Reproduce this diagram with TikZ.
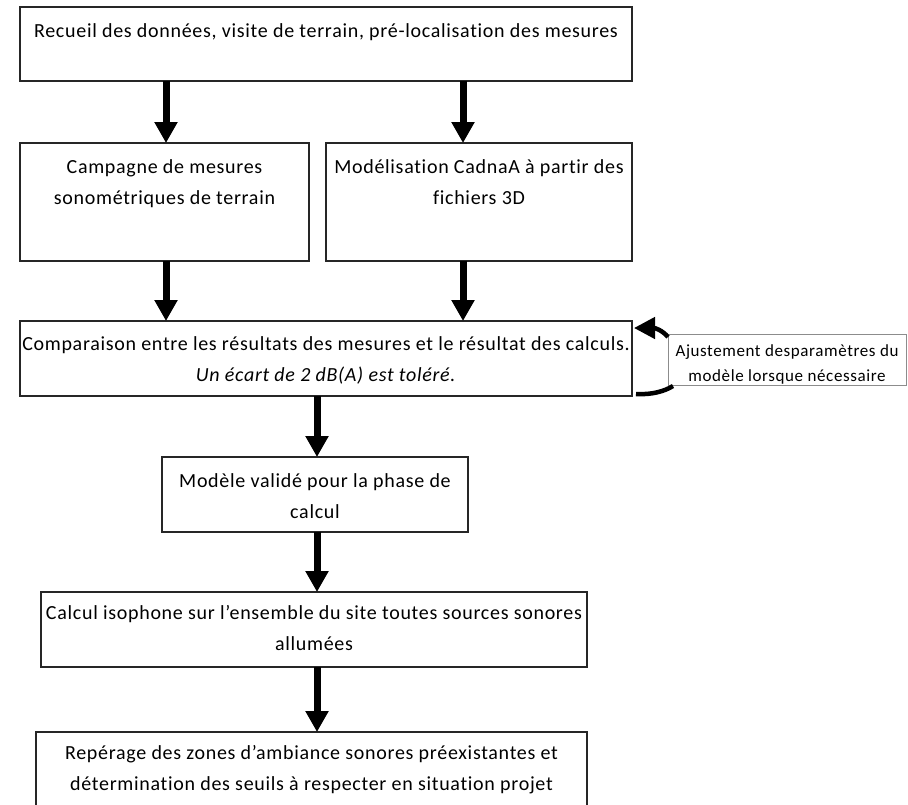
\documentclass[tikz,border=0pt]{standalone}
\usepackage{fontspec}
\setmainfont{Carlito}[LetterSpace=3.5, Ligatures={NoCommon}, RawFeature={-liga;-clig;-dlig}]
\usetikzlibrary{arrows.meta}

% top-aligned, centred text block of fixed size: width, height, first baseline, text
\newcommand{\flowtext}[4]{\parbox[c][#2][t]{#1}{\centering\rule{0pt}{#3}\ignorespaces#4\par}}

\tikzset{
  stepbox/.style={draw=black!85, line width=1.2pt, inner sep=0pt, outer sep=0pt,
    anchor=north west, font=\fontsize{20}{31}\selectfont},
  notebox/.style={draw=black!45, line width=1pt, inner sep=0pt, outer sep=0pt,
    anchor=north west, font=\fontsize{17}{25}\selectfont},
  flow/.style={draw=black, line width=7pt, -{Triangle[width=22pt,length=21pt]}},
  loopline/.style={draw=black, line width=4.5pt}
}

\begin{document}
\begin{tikzpicture}[x=1pt, y=-1pt]
  \useasboundingbox (0,0) rectangle (908,804);
  \clip (0,0) rectangle (908,804);

  % process steps
  \node[stepbox] (collect) at (20,7)
    {\flowtext{612pt}{74pt}{30pt}{Recueil des données, visite de terrain, pré-localisation des mesures}};
  \node[stepbox] (survey) at (20,143)
    {\flowtext{289pt}{118pt}{30pt}{Campagne de mesures\\sonométriques de terrain}};
  \node[stepbox] (model) at (326,143)
    {\flowtext{306pt}{118pt}{30pt}{Modélisation CadnaA à partir des\\fichiers 3D}};
  \node[stepbox] (compare) at (20,321)
    {\flowtext{612pt}{75pt}{29pt}{Comparaison entre les résultats des mesures et le résultat des calculs.\\\textit{Un écart de 2 dB(A) est toléré.}}};
  \node[notebox] (adjust) at (668,334)
    {\flowtext{238pt}{51pt}{22pt}{Ajustement desparamètres du\\modèle lorsque nécessaire}};
  \node[stepbox] (valid) at (162,457)
    {\flowtext{306pt}{75pt}{30pt}{Modèle validé pour la phase de\\calcul}};
  \node[stepbox] (iso) at (41,592)
    {\flowtext{546pt}{75pt}{27pt}{Calcul isophone sur l’ensemble du site toutes sources sonores\\allumées}};
  \node[stepbox] (zones) at (36,732)
    {\flowtext{551pt}{100pt}{27pt}{Repérage des zones d’ambiance sonores préexistantes et\\détermination des seuils à respecter en situation projet}};

  % arrow columns
  \coordinate (colL) at (166,0);
  \coordinate (colR) at (463,0);
  \coordinate (colM) at (317,0);

  \draw[flow] (collect.south -| colL) -- (survey.north -| colL);
  \draw[flow] (collect.south -| colR) -- (model.north -| colR);
  \draw[flow] (survey.south -| colL) -- (compare.north -| colL);
  \draw[flow] (model.south -| colR) -- (compare.north -| colR);
  \draw[flow] (compare.south -| colM) -- (valid.north -| colM);
  \draw[flow] (valid.south -| colM) -- (iso.north -| colM);
  \draw[flow] (iso.south -| colM) -- (zones.north -| colM);

  % adjustment loop around the comparison step
  \draw[loopline, -{Triangle[width=21pt,length=21pt]}]
    ([yshift=-3pt]adjust.north west) .. controls (662,330) and (655,328) .. ([xshift=2pt,yshift=-7pt]compare.north east);
  \draw[loopline]
    ([xshift=4pt,yshift=2pt]compare.south east) .. controls (652,395) and (665,391) .. ([xshift=5pt,yshift=-1pt]adjust.south west);
\end{tikzpicture}
\end{document}
